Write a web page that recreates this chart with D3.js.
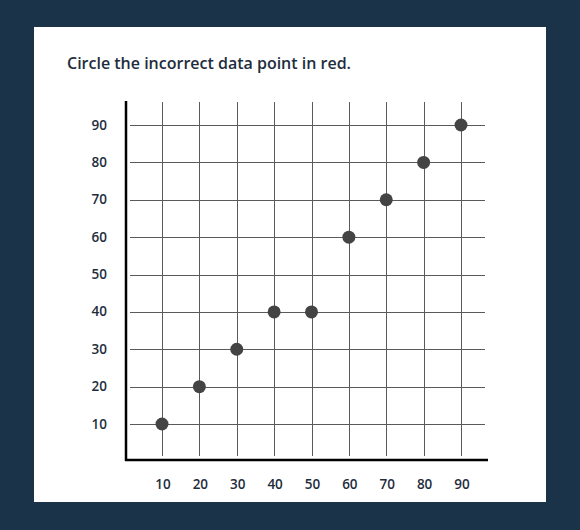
<!DOCTYPE html>
<html>
<meta charset="utf-8">
<title>Incorrect data point</title>
<style>
  body { margin: 0; background: #1b3349; }
  .grid line { stroke: #5a5a5a; stroke-width: 1; shape-rendering: crispEdges; }
  .tick-label { font-family: "Open Sans", sans-serif; font-weight: 600; font-size: 13.5px; fill: #1e2d3d; }
  .title { font-family: "Open Sans", sans-serif; font-weight: 600; font-size: 16px; fill: #1e2d3d; }
</style>
<body>
<div id="chart"></div>
<script src="https://d3js.org/d3.v7.min.js"></script>
<script>
// data
var xValues = [10, 20, 30, 40, 50, 60, 70, 80, 90];
var yValues = [10, 20, 30, 40, 40, 60, 70, 80, 90];
var xTicks = [10, 20, 30, 40, 50, 60, 70, 80, 90];
var yTicks = [10, 20, 30, 40, 50, 60, 70, 80, 90];
var titleText = "Circle the incorrect data point in red.";

var width = 580, height = 530;

var svg = d3.select("#chart").append("svg")
    .attr("width", width)
    .attr("height", height);

svg.append("rect")
    .attr("width", width).attr("height", height)
    .attr("fill", "#1b3349");

// white card
svg.append("rect")
    .attr("x", 34).attr("y", 27)
    .attr("width", 512).attr("height", 475)
    .attr("fill", "#fff");

svg.append("text")
    .attr("class", "title")
    .attr("x", 67).attr("y", 69)
    .attr("textLength", 284)
    .text(titleText);

var x = d3.scaleLinear().domain([10, 90]).range([162, 461]);
var y = d3.scaleLinear().domain([10, 90]).range([424, 125]);

var grid = svg.append("g").attr("class", "grid");

grid.selectAll(".vline")
    .data(xTicks)
  .enter().append("line")
    .attr("class", "vline")
    .attr("x1", function(d) { return Math.round(x(d)) + 0.5; })
    .attr("x2", function(d) { return Math.round(x(d)) + 0.5; })
    .attr("y1", 102).attr("y2", 456);

grid.selectAll(".hline")
    .data(yTicks)
  .enter().append("line")
    .attr("class", "hline")
    .attr("y1", function(d) { return Math.round(y(d)) + 0.5; })
    .attr("y2", function(d) { return Math.round(y(d)) + 0.5; })
    .attr("x1", 130).attr("x2", 485);

// axes lines
svg.append("line")
    .attr("x1", 126).attr("x2", 126)
    .attr("y1", 101).attr("y2", 461)
    .attr("stroke", "#000").attr("stroke-width", 2.5);

svg.append("line")
    .attr("x1", 125).attr("x2", 488)
    .attr("y1", 460).attr("y2", 460)
    .attr("stroke", "#000").attr("stroke-width", 2.5);

// tick labels
svg.selectAll(".xlabel")
    .data(xTicks)
  .enter().append("text")
    .attr("class", "tick-label")
    .attr("x", function(d) { return x(d) + 1; })
    .attr("y", 489)
    .attr("text-anchor", "middle")
    .text(function(d) { return d; });

svg.selectAll(".ylabel")
    .data(yTicks)
  .enter().append("text")
    .attr("class", "tick-label")
    .attr("x", 107)
    .attr("y", function(d) { return y(d) + 4.5; })
    .attr("text-anchor", "end")
    .text(function(d) { return d; });

// points
svg.selectAll(".dot")
    .data(xValues)
  .enter().append("circle")
    .attr("class", "dot")
    .attr("cx", function(d) { return x(d); })
    .attr("cy", function(d, i) { return y(yValues[i]); })
    .attr("r", 6.5)
    .attr("fill", "#444");
</script>
</body>
</html>
